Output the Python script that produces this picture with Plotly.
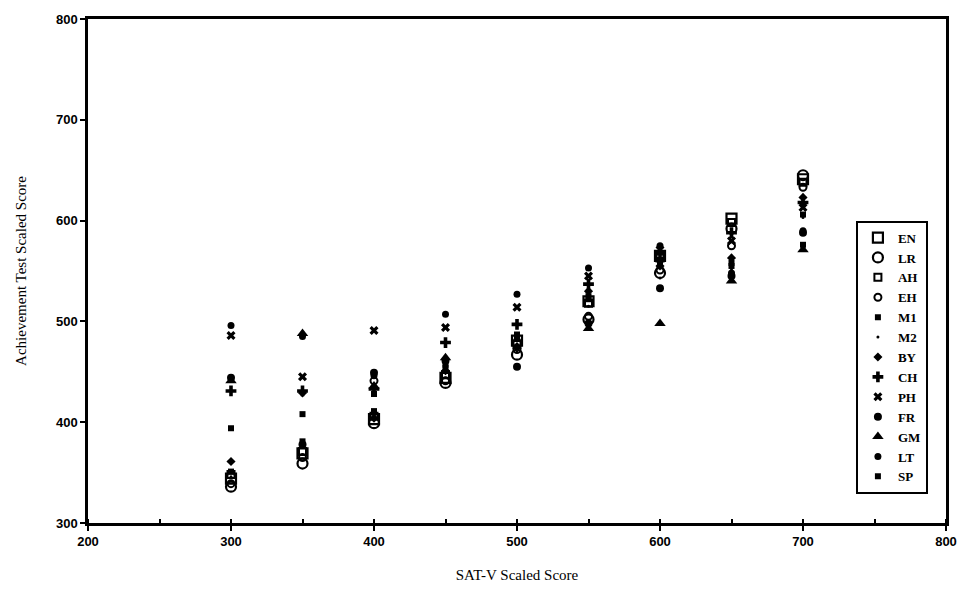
import plotly.graph_objects as go

sat_v = [300, 350, 400, 450, 500, 550, 600, 650, 700]

EN = [344, 369, 403, 444, 481, 520, 565, 602, 641]
LR = [336, 359, 399, 439, 467, 502, 548, 592, 645]
AH = [348, 371, 406, 447, 477, 518, 563, 598, 638]
EH = [339, 365, 441, 441, 472, 505, 551, 575, 633]
M1 = [351, 381, 428, 454, 484, 525, 558, 558, 606]
M2 = [346, 375, 407, 449, 470, 515, 543, 552, 603]
BY = [361, 429, 404, 451, 475, 530, 555, 563, 623]
CH = [431, 431, 433, 479, 497, 537, 568, 588, 618]
PH = [486, 445, 491, 494, 514, 545, 571, 580, 613]
FR = [444, 378, 449, 461, 455, 498, 533, 545, 588]
GM = [441, 488, 436, 464, 482, 493, 498, 540, 571]
LT = [496, 485, 446, 507, 527, 553, 575, 548, 590]
SP = [394, 408, 411, 457, 487, 522, 561, 555, 576]

series = [
    ("EN", EN, "square-open", 10, 2.2),
    ("LR", LR, "circle-open", 10, 2.2),
    ("AH", AH, "square-open", 7, 2),
    ("EH", EH, "circle-open", 7, 2),
    ("M1", M1, "square", 6, 0),
    ("M2", M2, "circle", 3, 0),
    ("BY", BY, "diamond", 7, 0),
    ("CH", CH, "cross", 9, 0),
    ("PH", PH, "x", 8, 0),
    ("FR", FR, "circle", 8, 0),
    ("GM", GM, "triangle-up", 10, 0),
    ("LT", LT, "circle", 7, 0),
    ("SP", SP, "square", 6, 0),
]

fig = go.Figure()
for name, vals, sym, size, lw in series:
    fig.add_trace(go.Scatter(
        x=sat_v, y=vals, mode="markers", name=name,
        marker=dict(symbol=sym, size=size, color="black",
                    line=dict(color="black", width=lw)),
    ))

tick_font = dict(family="Liberation Sans", size=13, color="black", weight="bold")
title_font = dict(family="Liberation Serif", size=15, color="black")

fig.update_layout(
    width=969, height=594,
    margin=dict(l=88, r=17, t=18, b=70),
    paper_bgcolor="white", plot_bgcolor="white",
    showlegend=True,
    legend=dict(
        x=0.895, y=0.600, xanchor="left", yanchor="top",
        bordercolor="black", borderwidth=2, bgcolor="white",
        font=dict(family="Liberation Serif", size=13, color="black", weight="bold"),
        tracegroupgap=0, itemsizing="trace", itemwidth=30,
    ),
    xaxis=dict(
        range=[200, 800], dtick=100, tick0=200,
        showgrid=False, zeroline=False,
        showline=True, linecolor="black", linewidth=2.5, mirror=True,
        ticks="outside", ticklen=5, tickwidth=1.5, tickcolor="black",
        minor=dict(dtick=50, ticks="inside", ticklen=4, tickcolor="black", tickwidth=1.5, showgrid=False),
        tickfont=tick_font,
        title=dict(text="SAT-V Scaled Score", font=title_font, standoff=22),
    ),
    yaxis=dict(
        range=[300, 800], dtick=100, tick0=300,
        showgrid=False, zeroline=False,
        showline=True, linecolor="black", linewidth=2.5, mirror=True,
        ticks="outside", ticklen=5, tickwidth=1.5, tickcolor="black",
        tickfont=tick_font,
        title=dict(text="Achievement Test Scaled Score", font=title_font, standoff=26),
    ),
)

fig.write_html("out.html")
